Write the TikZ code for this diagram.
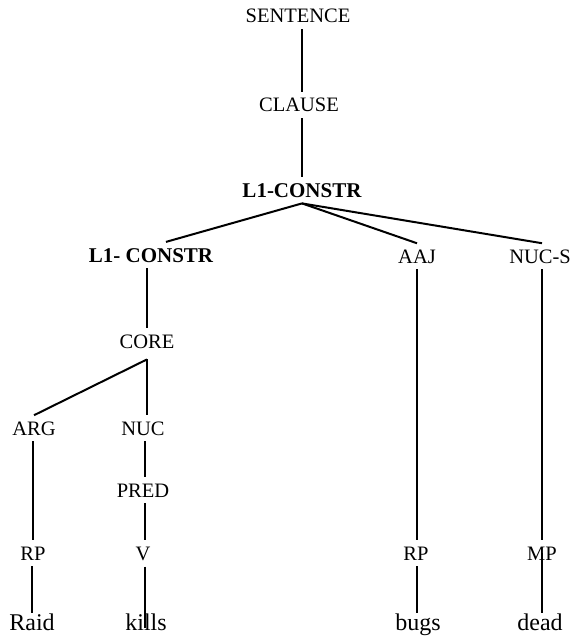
\documentclass[tikz,border=0pt]{standalone}
\usepackage{fontspec}
\setmainfont{Liberation Serif}
\usetikzlibrary{positioning}

\begin{document}
\begin{tikzpicture}[
    x=1pt, y=-1pt,
    cat/.style={font=\fontsize{20.5}{24}\selectfont, inner xsep=2pt, inner ysep=6pt, anchor=base},
    head/.style={cat, font=\fontsize{21}{25}\selectfont\bfseries},
    word/.style={font=\fontsize{24}{28}\selectfont, inner sep=0pt, anchor=base},
    branch/.style={line width=2pt},
    twig/.style={line width=1.7pt}
  ]
    \useasboundingbox (0,0) rectangle (571,636);

    % upper spine
    \node[cat] (sentence) at (298,23) {SENTENCE};
    \node[cat] (clause) at (299,112) {CLAUSE};
    \node[head] (constr) at (302,197) {L1-CONSTR};

    % daughters of the construction
    \node[head] (subconstr) at (151,262) {L1- CONSTR};
    \node[cat] (aaj) at (417,263) {AAJ};
    \node[cat] (nucs) at (540,263) {NUC-S};

    \node[cat] (core) at (147,348) {CORE};
    \node[cat] (arg) at (34,435) {ARG};
    \node[cat] (nuc) at (143,435) {NUC};
    \node[cat] (pred) at (143,497) {PRED};

    \node[cat] (rpa) at (33,560) {RP};
    \node[cat] (v) at (143,560) {V};
    \node[cat] (rpb) at (416,560) {RP};
    \node[cat] (mp) at (542,560) {MP};

    % the words
    \node[word] (raid) at (32,630) {Raid};
    \node[word] (kills) at (146,630) {kills};
    \node[word] (bugs) at (418,630) {bugs};
    \node[word] (dead) at (540,630) {dead};

    \draw[branch] (sentence.south -| constr) -- (clause.north -| constr);
    \draw[branch] (clause.south -| constr) -- (constr.north);
    \draw[branch] (constr.south) -- ([xshift=15pt]subconstr.north);
    \draw[branch] (constr.south) -- (aaj.north);
    \draw[branch] (constr.south) -- ([xshift=2pt]nucs.north);
    \draw[branch] (subconstr.south -| core) -- (core.north);
    \draw[branch] ([yshift=-5pt]core.south) -- (arg.north);
    \draw[branch] ([yshift=-5pt]core.south) -- (core.south |- nuc.north);

    \draw[twig] (arg.south -| rpa) -- (rpa.north);
    \draw[twig] (rpa.south -| raid.north) -- (raid.north);
    \draw[twig] ([xshift=2pt]nuc.south) -- ([xshift=2pt]pred.north);
    \draw[twig] ([xshift=2pt]pred.south) -- ([xshift=2pt]v.north);
    \draw[twig] ([xshift=2pt]v.south) -- ([xshift=2pt,yshift=2pt]kills.base -| v.south);
    \draw[twig] (aaj.south) -- (aaj.south |- rpb.north);
    \draw[twig] (aaj.south |- rpb.south) -- (aaj.south |- bugs.north);
    \draw[twig] ([xshift=2pt]nucs.south) -- (mp.north);
    \draw[twig] (mp.center) -- (mp.center |- dead.north);
\end{tikzpicture}
\end{document}
